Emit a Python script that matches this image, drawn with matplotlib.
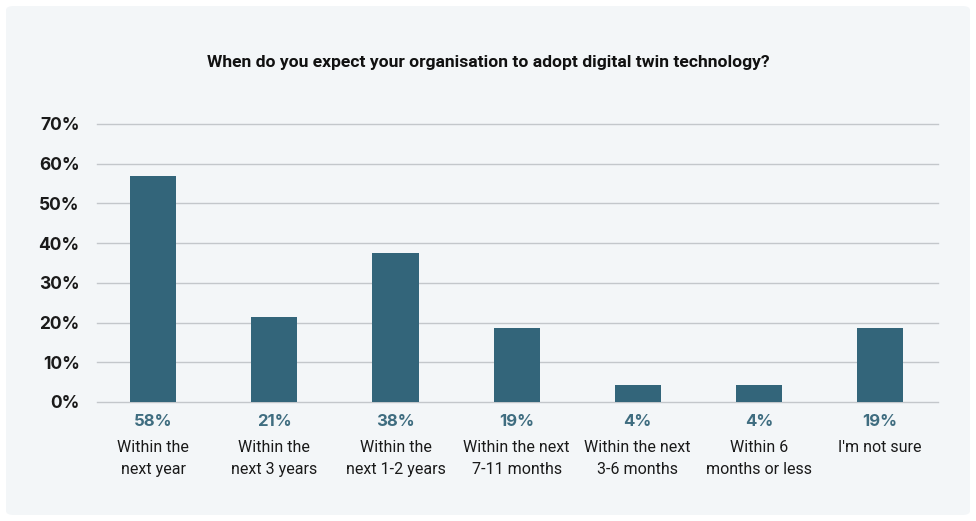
import numpy as np
import matplotlib.pyplot as plt
from matplotlib.patches import FancyBboxPatch
from matplotlib.transforms import blended_transform_factory, offset_copy

plt.rcParams['font.family'] = ['Roboto', 'DejaVu Sans']

categories = ['Within the\nnext year', 'Within the\nnext 3 years', 'Within the\nnext 1-2 years',
              'Within the next\n7-11 months', 'Within the next\n3-6 months', 'Within 6\nmonths or less',
              "I'm not sure"]
values = [57.0, 21.5, 37.6, 18.7, 4.3, 4.3, 18.7]
value_labels = ['58%', '21%', '38%', '19%', '4%', '4%', '19%']
yticks = [0, 10, 20, 30, 40, 50, 60, 70]

bar_color = '#33657a'
label_color = '#3f6d80'
inter = ['Inter', 'DejaVu Sans']

fig = plt.figure(figsize=(9.76, 5.21), dpi=100)
fig.patch.set_facecolor('white')
panel = FancyBboxPatch((6 / 976, 6 / 521), 964 / 976, 509 / 521,
                       boxstyle='round,pad=0,rounding_size=0.008',
                       transform=fig.transFigure, facecolor='#f3f6f8',
                       edgecolor='none', zorder=-10)
fig.patches.append(panel)

ax = fig.add_axes([97 / 976, 119 / 521, 841 / 976, 278 / 521])
ax.patch.set_facecolor('None')

x = np.arange(len(categories))
ax.bar(x, values, width=0.38, color=bar_color, zorder=3)

ax.set_ylim(0, 70)
ax.set_xlim(-0.465, 6.48)
ax.set_yticks(yticks)
ax.set_yticklabels(['%d%%' % t for t in yticks], fontsize=12.5, fontweight='bold',
                   color='#1a1a1a', family=inter)
ax.set_xticks([])
for t in yticks:
    ax.axhline(t, color='#c3c7cb', lw=1, zorder=1, clip_on=False)
for s in ax.spines:
    ax.spines[s].set_visible(False)
ax.tick_params(axis='y', length=0, pad=12.5)

# value and category labels under each bar
trans = blended_transform_factory(ax.transData, ax.transAxes)
for i in range(len(categories)):
    ax.text(x[i], 0, value_labels[i], ha='center', va='center', fontsize=12,
            fontweight='bold', color=label_color, family=inter,
            transform=offset_copy(trans, fig=fig, y=-14, units='points'))
    ax.text(x[i], 0, categories[i], ha='center', va='top', fontsize=11.5,
            color='#1a1a1a', linespacing=1.62,
            transform=offset_copy(trans, fig=fig, y=-27, units='points'))

fig.text(0.5, 1 - 63 / 521, 'When do you expect your organisation to adopt digital twin technology?',
         ha='center', va='center', fontsize=12.6, fontweight='bold', color='#111111')

fig.savefig('out.png', dpi=100)
